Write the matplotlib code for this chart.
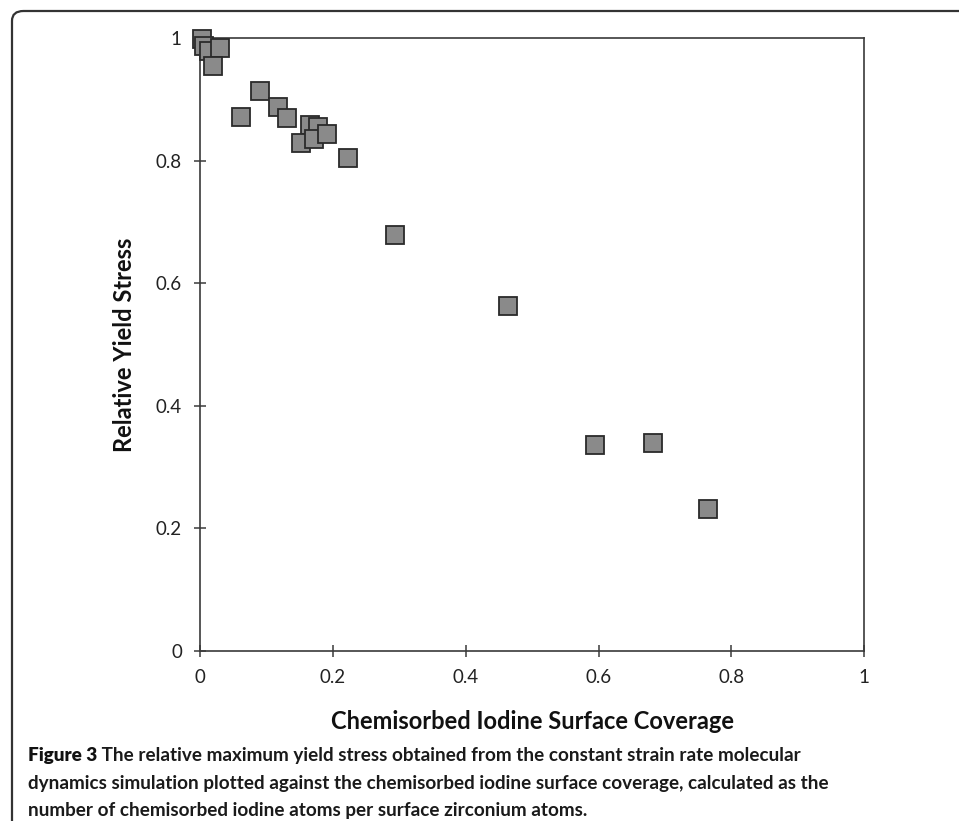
import matplotlib
matplotlib.use("Agg")
import matplotlib.pyplot as plt
from matplotlib.patches import FancyBboxPatch

plt.rcParams['font.family'] = ['Lato', 'DejaVu Sans']

# Data
coverage = [0.003, 0.006, 0.013, 0.030, 0.019, 0.090, 0.062, 0.117, 0.131,
            0.165, 0.177, 0.151, 0.172, 0.191, 0.223, 0.293, 0.464, 0.594,
            0.682, 0.765]
yield_stress = [0.998, 0.987, 0.978, 0.984, 0.954, 0.914, 0.871, 0.887, 0.870,
                0.858, 0.854, 0.828, 0.835, 0.843, 0.804, 0.679, 0.562, 0.336,
                0.340, 0.231]
x_ticks = [0, 0.2, 0.4, 0.6, 0.8, 1]
x_tick_labels = ["0", "0.2", "0.4", "0.6", "0.8", "1"]
y_ticks = [0, 0.2, 0.4, 0.6, 0.8, 1]
y_tick_labels = ["0", "0.2", "0.4", "0.6", "0.8", "1"]

W, H = 959, 821
fig = plt.figure(figsize=(W / 100, H / 100), dpi=100)

# Axes box (pixel geometry)
left, right, top, bottom = 200.3, 864.0, 38.0, 651.0
ax = fig.add_axes([left / W, (H - bottom) / H, (right - left) / W, (bottom - top) / H])

ax.plot(coverage, yield_stress, linestyle='none', marker='s', markersize=13,
        markerfacecolor='#8a8a8a', markeredgecolor='#2a2a2a', markeredgewidth=1.3,
        clip_on=False, zorder=3)

ax.set_xlim(0, 1)
ax.set_ylim(0, 1)
ax.set_xticks(x_ticks)
ax.set_xticklabels(x_tick_labels)
ax.set_yticks(y_ticks)
ax.set_yticklabels(y_tick_labels)

for sp in ax.spines.values():
    sp.set_color('#3a3a3a')
    sp.set_linewidth(1.2)

ax.tick_params(axis='both', direction='inout', length=8.5, width=1.1,
               color='#3a3a3a', labelsize=13.5, labelcolor='#222222')
ax.tick_params(axis='x', pad=9)
ax.tick_params(axis='y', pad=9)

ax.set_xlabel('Chemisorbed Iodine Surface Coverage', fontsize=17,
              fontweight='bold', color='#111111', labelpad=17)
ax.set_ylabel('Relative Yield Stress', fontsize=17, fontweight='bold',
              color='#111111', labelpad=14)

# Caption
cap_lines = [
    ("Figure 3", " The relative maximum yield stress obtained from the constant strain rate molecular"),
    ("", "dynamics simulation plotted against the chemisorbed iodine surface coverage, calculated as the"),
    ("", "number of chemisorbed iodine atoms per surface zirconium atoms."),
]
cap_y = [761, 789, 816]
cap_x = 28
cap_size = 13.6
for (b, rest), yy in zip(cap_lines, cap_y):
    if b:
        t = fig.text(cap_x / W, 1 - yy / H, b, fontsize=cap_size, fontweight='heavy',
                     color='#111111', va='baseline', ha='left')
        fig.canvas.draw()
        bb = t.get_window_extent()
        fig.text(bb.x1 / W, 1 - yy / H, rest, fontsize=cap_size, fontweight='bold',
                 color='#1a1a1a', va='baseline', ha='left')
    else:
        fig.text(cap_x / W, 1 - yy / H, rest, fontsize=cap_size, fontweight='bold',
                 color='#1a1a1a', va='baseline', ha='left')

# Rounded outer frame (extends past right/bottom edges)
frame = FancyBboxPatch((12 / W, -0.05), 1.2, (H - 11) / H + 0.05,
                       boxstyle="round,pad=0,rounding_size=0.012",
                       transform=fig.transFigure, fill=False,
                       edgecolor='#333333', linewidth=1.6, clip_on=False)
fig.patches.append(frame)

fig.savefig('out.png', dpi=100)
